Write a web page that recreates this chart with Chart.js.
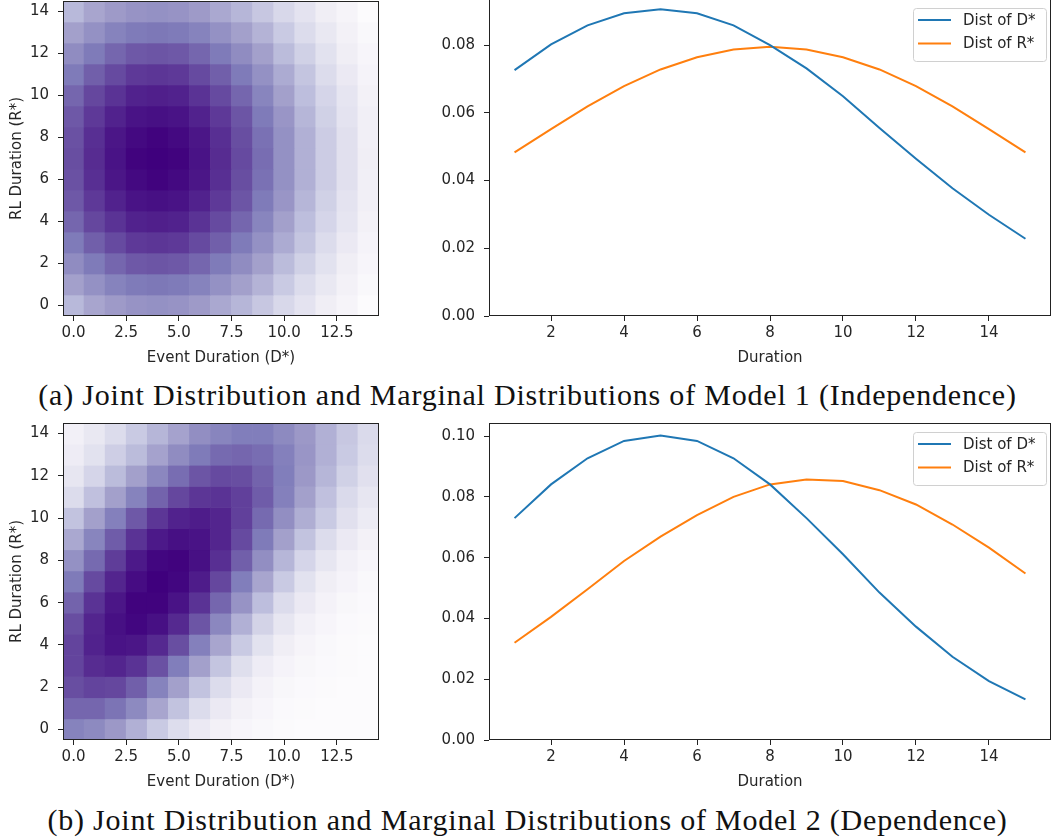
<!DOCTYPE html>
<html>
<head>
<meta charset="utf-8">
<script src="https://cdn.jsdelivr.net/npm/chart.js@4.4.1/dist/chart.umd.min.js"></script>
<style>
  html, body { margin: 0; padding: 0; background: #fff; }
  #page { position: relative; width: 1055px; height: 839px; overflow: hidden; }
  .panel { position: absolute; }
  .caption {
    position: absolute; left: 0; width: 1055px; text-align: center;
    font-family: "Liberation Serif", "DejaVu Serif", serif; font-size: 30px;
    letter-spacing: 0.8px; line-height: 34px; color: #111; white-space: nowrap;
  }
</style>
</head>
<body>
<div id="page">
  <canvas id="heat1" class="panel" width="390" height="375" style="left:0;top:0"></canvas>
  <canvas id="line1" class="panel" width="655" height="377" style="left:400px;top:-2px"></canvas>
  <div class="caption" style="top:378px">(a) Joint Distribution and Marginal Distributions of Model 1 (Independence)</div>
  <canvas id="heat2" class="panel" width="390" height="377" style="left:0;top:422px"></canvas>
  <canvas id="line2" class="panel" width="655" height="377" style="left:400px;top:422px"></canvas>
  <div class="caption" style="top:803px">(b) Joint Distribution and Marginal Distributions of Model 2 (Dependence)</div>
</div>
<script>
// marginal distributions
const durations = [1, 2, 3, 4, 5, 6, 7, 8, 9, 10, 11, 12, 13, 14, 15]
const distD1 = [0.0726, 0.0802, 0.0858, 0.0894, 0.0906, 0.0894, 0.0858, 0.0800, 0.0731, 0.0649, 0.0555, 0.0464, 0.0377, 0.0299, 0.0228]
const distR1 = [0.0483, 0.0552, 0.0619, 0.0679, 0.0728, 0.0764, 0.0787, 0.0795, 0.0787, 0.0764, 0.0728, 0.0679, 0.0619, 0.0552, 0.0483]
const distD2 = [0.0730, 0.0841, 0.0927, 0.0984, 0.1002, 0.0984, 0.0927, 0.0841, 0.0730, 0.0611, 0.0485, 0.0373, 0.0274, 0.0194, 0.0134]
const distR2 = [0.0320, 0.0405, 0.0496, 0.0589, 0.0669, 0.0740, 0.0800, 0.0841, 0.0857, 0.0852, 0.0822, 0.0775, 0.0709, 0.0633, 0.0548]

const lineXTicks = [2, 4, 6, 8, 10, 12, 14]
const lineYTicks1 = [0, 0.02, 0.04, 0.06, 0.08]
const lineYTicks2 = [0, 0.02, 0.04, 0.06, 0.08, 0.10]

// heatmap cells (colour intensity 0..1), rows listed from top (R* = 14) to bottom (R* = 0)
const heatCells = [0, 1, 2, 3, 4, 5, 6, 7, 8, 9, 10, 11, 12, 13, 14]
const heatXTicks = [0, 2.5, 5, 7.5, 10, 12.5]
const heatYTicks = [0, 2, 4, 6, 8, 10, 12, 14]

const joint1 = [
  [0.39, 0.46, 0.50, 0.53, 0.54, 0.53, 0.50, 0.45, 0.40, 0.33, 0.26, 0.19, 0.12, 0.06, 0.00],
  [0.48, 0.54, 0.60, 0.63, 0.64, 0.63, 0.60, 0.54, 0.48, 0.41, 0.32, 0.24, 0.16, 0.09, 0.03],
  [0.56, 0.63, 0.69, 0.73, 0.74, 0.73, 0.69, 0.63, 0.56, 0.48, 0.38, 0.29, 0.20, 0.12, 0.05],
  [0.63, 0.71, 0.77, 0.82, 0.83, 0.82, 0.77, 0.71, 0.63, 0.54, 0.44, 0.34, 0.24, 0.15, 0.07],
  [0.69, 0.78, 0.84, 0.89, 0.90, 0.89, 0.84, 0.77, 0.69, 0.59, 0.48, 0.37, 0.27, 0.18, 0.09],
  [0.73, 0.82, 0.89, 0.94, 0.95, 0.94, 0.89, 0.82, 0.74, 0.63, 0.52, 0.40, 0.29, 0.19, 0.11],
  [0.75, 0.85, 0.93, 0.97, 0.99, 0.97, 0.93, 0.85, 0.76, 0.66, 0.54, 0.42, 0.31, 0.21, 0.11],
  [0.76, 0.86, 0.94, 0.99, 1.00, 0.99, 0.94, 0.86, 0.77, 0.67, 0.54, 0.42, 0.31, 0.21, 0.12],
  [0.75, 0.85, 0.93, 0.97, 0.99, 0.97, 0.93, 0.85, 0.76, 0.66, 0.54, 0.42, 0.31, 0.21, 0.11],
  [0.73, 0.82, 0.89, 0.94, 0.95, 0.94, 0.89, 0.82, 0.74, 0.63, 0.52, 0.40, 0.29, 0.19, 0.11],
  [0.69, 0.78, 0.84, 0.89, 0.90, 0.89, 0.84, 0.77, 0.69, 0.59, 0.48, 0.37, 0.27, 0.18, 0.09],
  [0.63, 0.71, 0.77, 0.82, 0.83, 0.82, 0.77, 0.71, 0.63, 0.54, 0.44, 0.34, 0.24, 0.15, 0.07],
  [0.56, 0.63, 0.69, 0.73, 0.74, 0.73, 0.69, 0.63, 0.56, 0.48, 0.38, 0.29, 0.20, 0.12, 0.05],
  [0.48, 0.54, 0.60, 0.63, 0.64, 0.63, 0.60, 0.54, 0.48, 0.41, 0.32, 0.24, 0.16, 0.09, 0.03],
  [0.39, 0.46, 0.50, 0.53, 0.54, 0.53, 0.50, 0.45, 0.40, 0.33, 0.26, 0.19, 0.12, 0.06, 0.00]
]

const joint2 = [
  [0.10, 0.16, 0.24, 0.32, 0.40, 0.47, 0.55, 0.59, 0.62, 0.62, 0.57, 0.51, 0.42, 0.33, 0.25],
  [0.13, 0.20, 0.30, 0.38, 0.47, 0.56, 0.63, 0.68, 0.69, 0.67, 0.61, 0.52, 0.42, 0.32, 0.24],
  [0.17, 0.27, 0.38, 0.48, 0.58, 0.67, 0.74, 0.77, 0.76, 0.70, 0.62, 0.51, 0.40, 0.29, 0.21],
  [0.24, 0.36, 0.48, 0.60, 0.70, 0.78, 0.83, 0.84, 0.80, 0.72, 0.61, 0.48, 0.36, 0.25, 0.17],
  [0.35, 0.48, 0.61, 0.73, 0.83, 0.89, 0.91, 0.88, 0.80, 0.68, 0.55, 0.43, 0.32, 0.21, 0.14],
  [0.45, 0.59, 0.72, 0.84, 0.92, 0.95, 0.94, 0.88, 0.77, 0.63, 0.48, 0.35, 0.24, 0.15, 0.09],
  [0.54, 0.68, 0.81, 0.92, 0.98, 0.99, 0.95, 0.85, 0.71, 0.55, 0.40, 0.27, 0.17, 0.10, 0.05],
  [0.63, 0.77, 0.88, 0.96, 1.00, 0.98, 0.91, 0.78, 0.62, 0.46, 0.32, 0.20, 0.12, 0.07, 0.03],
  [0.70, 0.84, 0.93, 0.99, 0.99, 0.94, 0.84, 0.69, 0.53, 0.37, 0.24, 0.15, 0.08, 0.04, 0.02],
  [0.76, 0.88, 0.95, 0.98, 0.95, 0.87, 0.74, 0.58, 0.42, 0.28, 0.17, 0.10, 0.05, 0.02, 0.01],
  [0.79, 0.89, 0.94, 0.93, 0.87, 0.76, 0.61, 0.46, 0.32, 0.20, 0.12, 0.06, 0.03, 0.01, 0.00],
  [0.79, 0.86, 0.88, 0.84, 0.75, 0.62, 0.48, 0.34, 0.22, 0.13, 0.07, 0.04, 0.02, 0.01, 0.00],
  [0.76, 0.79, 0.78, 0.71, 0.60, 0.48, 0.35, 0.24, 0.15, 0.08, 0.04, 0.02, 0.01, 0.00, 0.00],
  [0.69, 0.69, 0.65, 0.57, 0.46, 0.35, 0.24, 0.15, 0.09, 0.05, 0.02, 0.01, 0.00, 0.00, 0.00],
  [0.60, 0.57, 0.51, 0.42, 0.32, 0.23, 0.15, 0.09, 0.05, 0.03, 0.01, 0.00, 0.00, 0.00, 0.00]
]

Chart.defaults.font.family = "'DejaVu Sans', sans-serif"
Chart.defaults.font.size = 15
Chart.defaults.color = '#262626'
Chart.defaults.animation = false

// matplotlib "Purples"
const purplesStops = [[252,251,253],[239,237,245],[218,218,235],[188,189,220],[158,154,200],[128,125,186],[106,81,163],[84,39,143],[63,0,125]]
function purples(t) {
  t = Math.max(0, Math.min(1, t)) * 8
  const i = Math.min(7, Math.floor(t))
  const f = t - i
  const a = purplesStops[i], b = purplesStops[i + 1]
  return 'rgb(' + a.map((c, k) => Math.round(c + (b[k] - c) * f)).join(',') + ')'
}

// full box around the plot like matplotlib spines
const frame = {
  id: 'frame',
  afterDraw(chart) {
    const {ctx, chartArea: a} = chart
    ctx.save()
    ctx.strokeStyle = '#222'
    ctx.lineWidth = 1
    ctx.strokeRect(Math.round(a.left) + 0.5, Math.round(a.top) + 0.5, Math.round(a.right - a.left) - 1, Math.round(a.bottom - a.top) - 1)
    ctx.restore()
  }
}

// legend box in the upper right corner
const cornerLegend = {
  id: 'cornerLegend',
  afterDraw(chart) {
    const {ctx, chartArea: a} = chart
    const w = 133, h = 53
    const x = a.right - 5 - w, y = a.top + 9
    ctx.save()
    ctx.beginPath()
    ctx.roundRect(x + 0.5, y + 0.5, w, h, 3)
    ctx.fillStyle = 'rgba(255,255,255,0.8)'
    ctx.fill()
    ctx.strokeStyle = '#d0d0d0'
    ctx.lineWidth = 1
    ctx.stroke()
    chart.data.datasets.forEach((ds, i) => {
      const cy = y + 12 + i * 23.5
      ctx.beginPath()
      ctx.moveTo(x + 5, cy)
      ctx.lineTo(x + 38, cy)
      ctx.strokeStyle = ds.borderColor
      ctx.lineWidth = 2.2
      ctx.stroke()
      ctx.fillStyle = '#262626'
      ctx.font = "15px 'DejaVu Sans', sans-serif"
      ctx.textBaseline = 'middle'
      ctx.fillText(ds.label, x + 50, cy + 1)
    })
    ctx.restore()
  }
}

function tickGrid() {
  return { display: true, offset: false, drawOnChartArea: false, drawTicks: true, tickLength: 5, tickColor: '#222', tickWidth: 1 }
}

// fixed axis sizes, and no extra room reserved for the end labels
function fixHeight(h) {
  return s => { s.height = h; s.paddingLeft = 0; s.paddingRight = 0 }
}
function fixWidth(w) {
  return s => { s.width = w; s.paddingTop = 0; s.paddingBottom = 0 }
}

function makeHeatmap(id, grid) {
  const datasets = grid.map((row, r) => {
    const y = heatCells[heatCells.length - 1 - r]
    return {
      data: row.map((v, i) => ({ x: heatCells[i], y: [y - 0.5, y + 0.5] })),
      backgroundColor: row.map(purples),
      borderWidth: 0,
      grouped: false,
      barPercentage: 1,
      categoryPercentage: 1
    }
  })
  new Chart(document.getElementById(id), {
    type: 'bar',
    data: { datasets },
    plugins: [frame],
    options: {
      responsive: false,
      devicePixelRatio: 1,
      layout: { padding: { top: 1, right: 11, left: 0, bottom: 0 } },
      plugins: { legend: { display: false }, tooltip: { enabled: false } },
      scales: {
        x: {
          type: 'linear', min: -0.5, max: 14.5, offset: false,
          grid: tickGrid(), border: { display: false },
          afterBuildTicks: s => { s.ticks = heatXTicks.map(v => ({ value: v })) },
          afterFit: fixHeight(59),
          ticks: { autoSkip: false, maxRotation: 0, padding: 3, callback: v => v.toFixed(1) },
          title: { display: true, text: 'Event Duration (D*)', padding: { top: 0, bottom: 8 } }
        },
        y: {
          type: 'linear', min: -0.5, max: 14.5,
          grid: tickGrid(), border: { display: false },
          afterBuildTicks: s => { s.ticks = heatYTicks.map(v => ({ value: v })) },
          afterFit: fixWidth(63),
          ticks: { autoSkip: false, padding: 9 },
          title: { display: true, text: 'RL Duration (R*)', padding: { top: 8, bottom: 0 } }
        }
      }
    }
  })
}

function makeLines(id, dD, dR, yMax, yTicks) {
  new Chart(document.getElementById(id), {
    type: 'line',
    data: {
      datasets: [
        { label: 'Dist of D*', data: durations.map((d, i) => ({ x: d, y: dD[i] })), borderColor: '#1f77b4', borderWidth: 2, pointRadius: 0, tension: 0, fill: false },
        { label: 'Dist of R*', data: durations.map((d, i) => ({ x: d, y: dR[i] })), borderColor: '#ff7f0e', borderWidth: 2, pointRadius: 0, tension: 0, fill: false }
      ]
    },
    plugins: [frame, cornerLegend],
    options: {
      responsive: false,
      devicePixelRatio: 1,
      layout: { padding: { top: 1, right: 4, left: 0, bottom: 0 } },
      plugins: { legend: { display: false }, tooltip: { enabled: false } },
      scales: {
        x: {
          type: 'linear', min: 0.3, max: 15.7,
          grid: tickGrid(), border: { display: false },
          afterBuildTicks: s => { s.ticks = lineXTicks.map(v => ({ value: v })) },
          afterFit: fixHeight(59),
          ticks: { autoSkip: false, maxRotation: 0, padding: 3 },
          title: { display: true, text: 'Duration', padding: { top: 0, bottom: 8 } }
        },
        y: {
          type: 'linear', min: 0, max: yMax,
          grid: tickGrid(), border: { display: false },
          afterBuildTicks: s => { s.ticks = yTicks.map(v => ({ value: v })) },
          afterFit: fixWidth(89),
          ticks: { autoSkip: false, padding: 9, callback: v => v.toFixed(2) }
        }
      }
    }
  })
}

makeHeatmap('heat1', joint1)
makeLines('line1', distD1, distR1, 0.0936, lineYTicks1)
makeHeatmap('heat2', joint2)
makeLines('line2', distD2, distR2, 0.1043, lineYTicks2)
</script>
</body>
</html>
